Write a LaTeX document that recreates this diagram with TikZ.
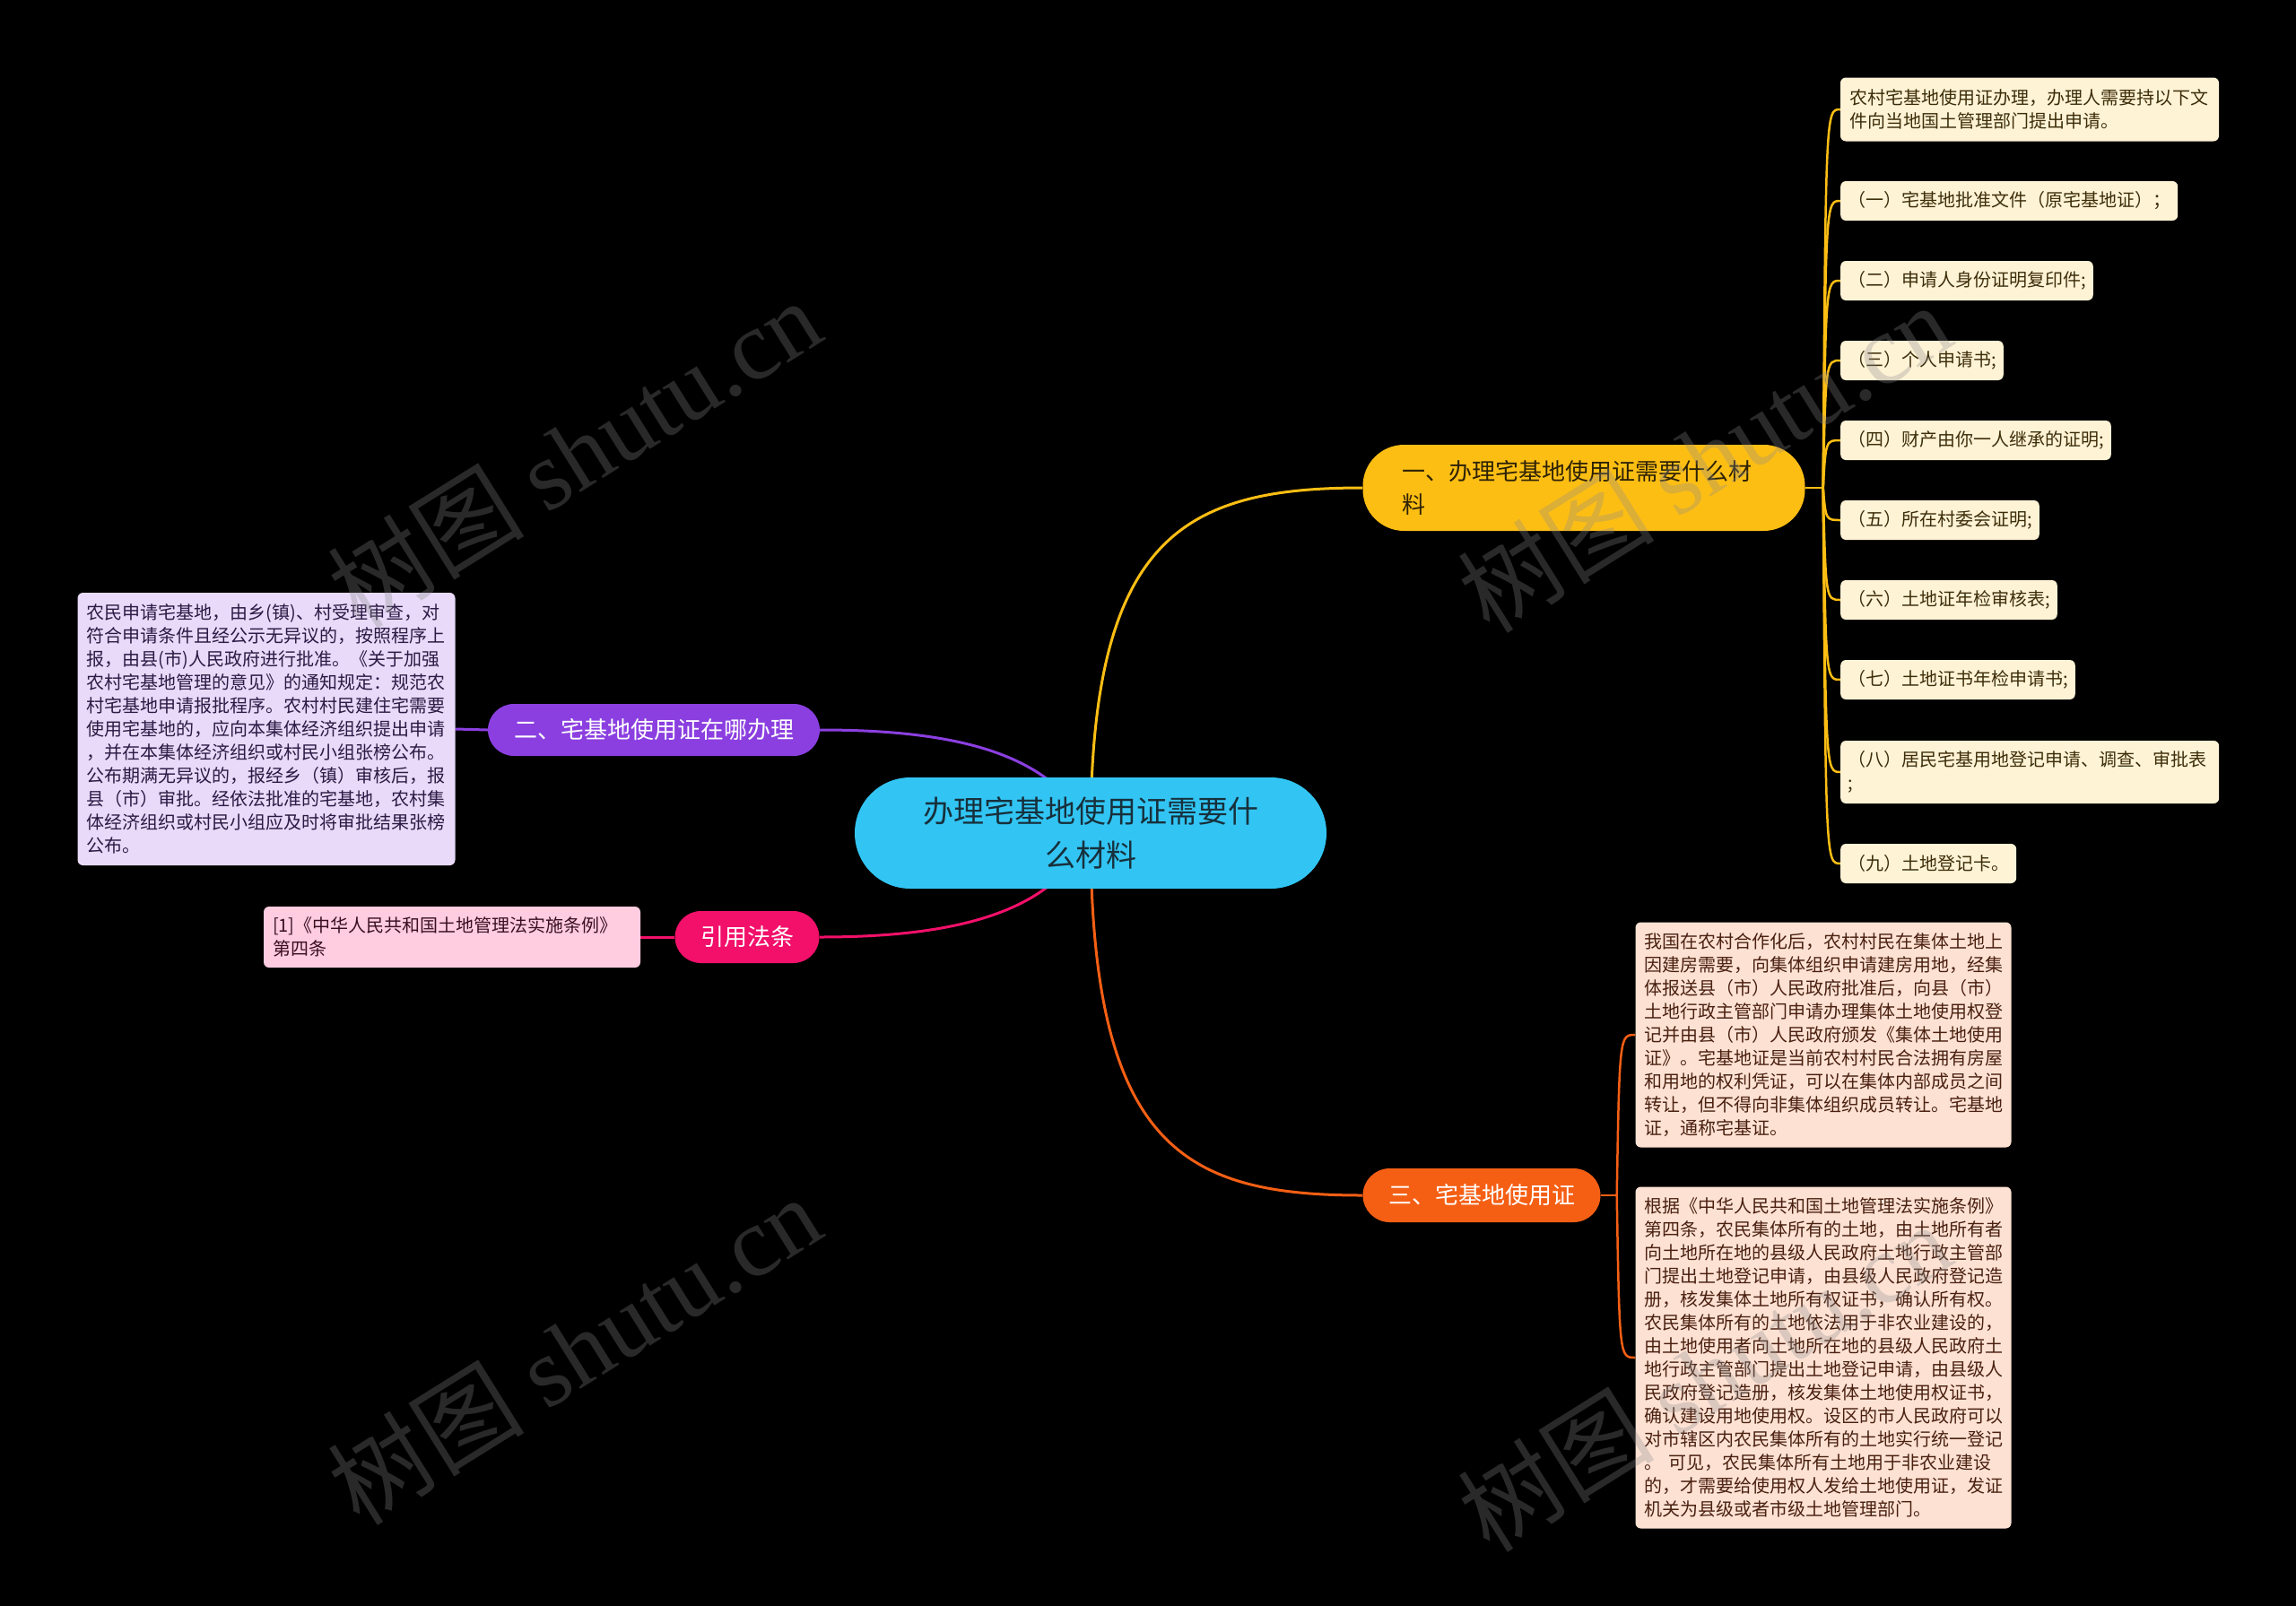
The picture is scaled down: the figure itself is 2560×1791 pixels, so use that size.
\documentclass[tikz,border=0pt]{standalone}
\usepackage{fontspec}
\setmainfont{Noto Sans CJK SC}
\newfontfamily\wmlatin{Liberation Serif}
\usetikzlibrary{calc}
\pgfdeclarelayer{bgl}
\pgfdeclarelayer{linel}
\pgfsetlayers{bgl,linel,main}
\definecolor{rootc}{HTML}{32C5F4}
\definecolor{roottxt}{HTML}{17303C}
\definecolor{yelc}{HTML}{FDBE14}
\definecolor{yeltxt}{HTML}{2E2205}
\definecolor{purc}{HTML}{8B3FE0}
\definecolor{orc}{HTML}{F55F14}
\definecolor{pkc}{HTML}{F2106A}
\definecolor{lavc}{HTML}{E8DAF8}
\definecolor{lavtxt}{HTML}{2B1B45}
\definecolor{pinkc}{HTML}{FFCCE0}
\definecolor{pinktxt}{HTML}{3A1020}
\definecolor{creamc}{HTML}{FFF3D6}
\definecolor{creamtxt}{HTML}{3D2E0A}
\definecolor{peachc}{HTML}{FDE2D4}
\definecolor{peachtxt}{HTML}{4A2010}
\definecolor{wmgray}{HTML}{8A8A8A}
\begin{document}
\begin{tikzpicture}[x=1pt,y=-1pt,
  rootn/.style={fill=rootc, text=roottxt, rounded corners=62pt, minimum width=526pt, minimum height=124pt, align=center, inner sep=0pt, font=\fontsize{34}{49}\selectfont},
  branch/.style={rounded corners=29pt, inner sep=0pt, align=center, font=\fontsize{26}{37}\selectfont},
  leaf/.style={rounded corners=6pt, inner xsep=10pt, inner ysep=0pt, align=left, font=\fontsize{20}{26}\selectfont},
  cream/.style={leaf, fill=creamc, text=creamtxt},
  creamone/.style={cream, anchor=west, inner xsep=8pt, minimum height=44pt},
  peach/.style={leaf, fill=peachc, text=peachtxt, text width=399pt},
  conn/.style={line width=3pt},
  conn2/.style={line width=2.5pt},
  wm/.style={rotate=32, font=\fontsize{110}{110}\selectfont, text=wmgray, text opacity=0.3}
]
\begin{pgfonlayer}{bgl}
\fill[black] (0,0) rectangle (2560,1791);
\end{pgfonlayer}
\useasboundingbox (0,0) rectangle (2560,1791);

% root and branches
\node[rootn] (root) at (1216,929) {办理宅基地使用证需要什\\么材料};
\node[branch, fill=yelc, text=yeltxt, align=left, text width=405pt, inner xsep=44pt, minimum height=96pt, rounded corners=46pt] (b1) at (1766,544) {一、办理宅基地使用证需要什么材\\料};
\node[branch, fill=purc, text=white, minimum width=370pt, minimum height=58pt] (b2) at (729,814) {二、宅基地使用证在哪办理};
\node[branch, fill=orc, text=white, minimum width=265pt, minimum height=60pt, rounded corners=30pt] (b3) at (1652,1333) {三、宅基地使用证};
\node[branch, fill=pkc, text=white, minimum width=161pt, minimum height=58pt] (b4) at (833,1045) {引用法条};

% left leaves
\node[leaf, fill=lavc, text=lavtxt, text width=401pt, minimum height=304pt] (l2) at (297,813) {农民申请宅基地，由乡(镇)、村受理审查，对\\符合申请条件且经公示无异议的，按照程序上\\报，由县(市)人民政府进行批准。《关于加强\\农村宅基地管理的意见》的通知规定：规范农\\村宅基地申请报批程序。农村村民建住宅需要\\使用宅基地的，应向本集体经济组织提出申请\\，并在本集体经济组织或村民小组张榜公布。\\公布期满无异议的，报经乡（镇）审核后，报\\县（市）审批。经依法批准的宅基地，农村集\\体经济组织或村民小组应及时将审批结果张榜\\公布。};
\node[leaf, fill=pinkc, text=pinktxt, text width=400pt, minimum height=68pt] (l4) at (504,1045) {[1]《中华人民共和国土地管理法实施条例》\\第四条};

% right cream leaves
\node[cream, text width=402pt, minimum height=71pt] (c0) at (2263,122) {农村宅基地使用证办理，办理人需要持以下文\\件向当地国土管理部门提出申请。};
\node[creamone] (c1) at (2052,224) {（一）宅基地批准文件（原宅基地证）；};
\node[creamone] (c2) at (2052,313) {（二）申请人身份证明复印件;};
\node[creamone] (c3) at (2052,402) {（三）个人申请书;};
\node[creamone] (c4) at (2052,491) {（四）财产由你一人继承的证明;};
\node[creamone] (c5) at (2052,580) {（五）所在村委会证明;};
\node[creamone] (c6) at (2052,669) {（六）土地证年检审核表;};
\node[creamone] (c7) at (2052,758) {（七）土地证书年检申请书;};
\node[cream, anchor=west, inner xsep=8pt, text width=406pt, minimum height=70pt] (c8) at (2052,861) {（八）居民宅基用地登记申请、调查、审批表\\;};
\node[creamone] (c9) at (2052,963) {（九）土地登记卡。};

% right peach leaves
\node[peach, minimum height=251pt] (pA) at (2033,1154) {我国在农村合作化后，农村村民在集体土地上\\因建房需要，向集体组织申请建房用地，经集\\体报送县（市）人民政府批准后，向县（市）\\土地行政主管部门申请办理集体土地使用权登\\记并由县（市）人民政府颁发《集体土地使用\\证》。宅基地证是当前农村村民合法拥有房屋\\和用地的权利凭证，可以在集体内部成员之间\\转让，但不得向非集体组织成员转让。宅基地\\证，通称宅基证。};
\node[peach, minimum height=381pt] (pB) at (2033,1514) {根据《中华人民共和国土地管理法实施条例》\\第四条，农民集体所有的土地，由土地所有者\\向土地所在地的县级人民政府土地行政主管部\\门提出土地登记申请，由县级人民政府登记造\\册，核发集体土地所有权证书，确认所有权。\\农民集体所有的土地依法用于非农业建设的，\\由土地使用者向土地所在地的县级人民政府土\\地行政主管部门提出土地登记申请，由县级人\\民政府登记造册，核发集体土地使用权证书，\\确认建设用地使用权。设区的市人民政府可以\\对市辖区内农民集体所有的土地实行统一登记\\。 可见，农民集体所有土地用于非农业建设\\的，才需要给使用权人发给土地使用证，发证\\机关为县级或者市级土地管理部门。};

% connectors
\begin{pgfonlayer}{linel}
\draw[conn, yelc] (root.center) .. controls +(0,-330) and +(-200,0) .. (b1.west);
\draw[conn, orc] (root.center) .. controls +(0,350) and +(-200,0) .. (b3.west);
\draw[conn, purc] (b2.east) .. controls +(150,0) and +(-40,-90) .. (root.center);
\draw[conn, pkc] (b4.east) .. controls +(150,0) and +(-40,90) .. (root.center);
\draw[conn, purc] (b2.west) -- (l2.east);
\draw[conn, pkc] (b4.west) -- (l4.east);
\coordinate (j1) at ($(b1.east)+(20,0)$);
\draw[conn2, yelc] (b1.east) -- (j1);
\foreach \i in {0,...,9} {
  \draw[conn2, yelc] (j1) .. controls ($(j1 |- c\i.west)+(3,0)$) and ($(j1 |- c\i.west)+(3,0)$) .. (c\i.west);
}
\coordinate (j3) at ($(b3.east)+(18,0)$);
\draw[conn2, orc] (b3.east) -- (j3);
\draw[conn2, orc] (j3) .. controls ($(j3 |- pA.west)+(3,0)$) and ($(j3 |- pA.west)+(3,0)$) .. (pA.west);
\draw[conn2, orc] (j3) .. controls ($(j3 |- pB.west)+(3,0)$) and ($(j3 |- pB.west)+(3,0)$) .. (pB.west);
\end{pgfonlayer}

% watermarks
\node[wm] (w1) at (640,505) {树图 {\wmlatin shutu.cn}};
\node[wm] (w2) at (1900,510) {树图 {\wmlatin shutu.cn}};
\node[wm] (w3) at (640,1505) {树图 {\wmlatin shutu.cn}};
\node[wm] (w4) at (1900,1535) {树图 {\wmlatin shutu.cn}};
\end{tikzpicture}
\end{document}
